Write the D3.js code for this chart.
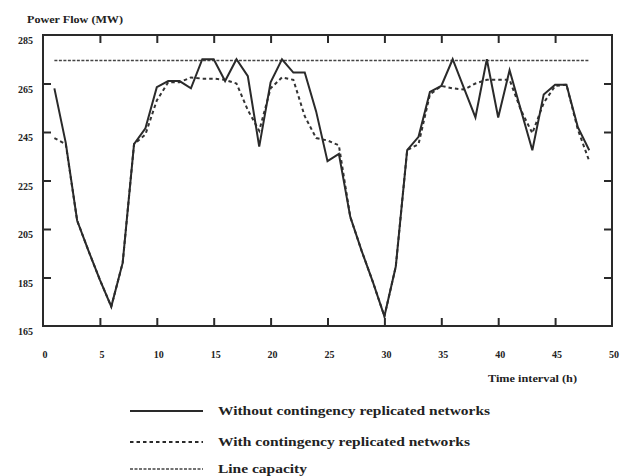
<!DOCTYPE html>
<html>
<head>
<meta charset="utf-8">
<script src="https://cdn.jsdelivr.net/npm/d3@7"></script>
<style>
  html, body { margin: 0; padding: 0; background: #fff; }
  svg { display: block; }
  text { font-family: "Liberation Serif", "DejaVu Serif", serif; font-weight: bold; fill: #222; }
</style>
</head>
<body>
<svg id="chart" width="625" height="476"></svg>
<script>
// ---- data ----
const hours = d3.range(1, 49);
const withoutContingency = [263, 240.5, 208.5, 196, 184, 173, 191, 240, 246.5, 263.5, 266, 266, 263, 275, 275, 266, 275, 268, 239, 265.5, 275, 269.5, 269.5, 253.5, 233, 236, 210, 196, 183, 169, 189.5, 237.5, 243, 261.5, 264, 275, 263, 251, 275, 251, 270.5, 254, 237.5, 260.5, 264.5, 264.5, 247, 237.5];
const withContingency    = [242.5, 240, 208.5, 196, 184, 173, 191, 240, 244, 258, 265.5, 265.5, 267.5, 267, 267, 266.5, 265, 254, 245.5, 263, 267.5, 266.5, 251.5, 242.5, 241.5, 239.5, 210, 196, 183, 169, 189.5, 237.5, 240, 260.5, 264, 263, 262.5, 265, 266.5, 266.5, 266.5, 254, 244.5, 257, 264, 264.5, 246, 233];
const lineCapacity = 274.5;
const capacityRange = [1, 48];
const xTicks = [0, 5, 10, 15, 20, 25, 30, 35, 40, 45, 50];
const yTicks = [165, 185, 205, 225, 245, 265, 285];
const yLabel = "Power Flow (MW)";
const xLabel = "Time interval (h)";
const legendLabels = ["Without contingency replicated networks", "With contingency replicated networks", "Line capacity"];

// ---- layout ----
const svg = d3.select("#chart");
const L = 43, R = 612, T = 35, B = 326;
const x = d3.scaleLinear().domain([0, 50]).range([L, R]);
const y = d3.scaleLinear().domain([165, 285]).range([B, T]);
const ink = "#2a2a2a";
const tickLen = 8;

// frame
svg.append("rect").attr("x", L).attr("y", T).attr("width", R - L).attr("height", B - T)
  .attr("fill", "none").attr("stroke", ink).attr("stroke-width", 2);

// axes with inward ticks
const gB = svg.append("g").attr("transform", `translate(0,${B})`)
  .call(d3.axisTop(x).tickValues(xTicks.slice(1, -1)).tickSize(tickLen).tickFormat(""));
const gT = svg.append("g").attr("transform", `translate(0,${T})`)
  .call(d3.axisBottom(x).tickValues(xTicks.slice(1, -1)).tickSize(tickLen).tickFormat(""));
const gL = svg.append("g").attr("transform", `translate(${L},0)`)
  .call(d3.axisRight(y).tickValues(yTicks.slice(1, -1)).tickSize(tickLen).tickFormat(""));
const gR = svg.append("g").attr("transform", `translate(${R},0)`)
  .call(d3.axisLeft(y).tickValues(yTicks.slice(1, -1)).tickSize(tickLen).tickFormat(""));
[gB, gT, gL, gR].forEach(g => {
  g.select(".domain").remove();
  g.selectAll(".tick line").attr("stroke", ink).attr("stroke-width", 2);
});

// tick labels
svg.append("g").selectAll("text").data(xTicks).join("text")
  .attr("x", d => x(d) + 2).attr("y", 358).attr("text-anchor", "middle")
  .attr("font-size", 10).text(d => d);
svg.append("g").selectAll("text").data(yTicks).join("text")
  .attr("x", 33).attr("y", d => y(d) + 9).attr("text-anchor", "end")
  .attr("font-size", 10).text(d => d);

// axis titles
svg.append("text").attr("x", 27).attr("y", 23).attr("font-size", 10)
  .attr("textLength", 96).attr("lengthAdjust", "spacingAndGlyphs").text(yLabel);
svg.append("text").attr("x", 488).attr("y", 382).attr("font-size", 10)
  .attr("textLength", 89).attr("lengthAdjust", "spacingAndGlyphs").text(xLabel);

// capacity line
svg.append("line")
  .attr("x1", x(capacityRange[0])).attr("x2", x(capacityRange[1]))
  .attr("y1", y(lineCapacity)).attr("y2", y(lineCapacity))
  .attr("stroke", "#444").attr("stroke-width", 1.6).attr("stroke-dasharray", "3,1.5");

const line = d3.line().x((d, i) => x(hours[i])).y(d => y(d));

svg.append("path").datum(withContingency).attr("d", line)
  .attr("fill", "none").attr("stroke", "#333").attr("stroke-width", 2)
  .attr("stroke-dasharray", "3.5,3");
svg.append("path").datum(withoutContingency).attr("d", line)
  .attr("fill", "none").attr("stroke", ink).attr("stroke-width", 2)
  .attr("stroke-linejoin", "miter");

// legend
const legendY = [411, 442, 469];
const legendDash = [null, "3.5,3", "3,1.5"];
const legendWidths = [272, 252, 89];
const lg = svg.append("g");
legendLabels.forEach((lab, i) => {
  lg.append("line").attr("x1", 130).attr("x2", 203).attr("y1", legendY[i]).attr("y2", legendY[i])
    .attr("stroke", i === 2 ? "#444" : ink).attr("stroke-width", i === 2 ? 1.6 : 2)
    .attr("stroke-dasharray", legendDash[i]);
  lg.append("text").attr("x", 218).attr("y", legendY[i] + 4).attr("font-size", 12)
    .attr("textLength", legendWidths[i]).attr("lengthAdjust", "spacingAndGlyphs").text(lab);
});
</script>
</body>
</html>
